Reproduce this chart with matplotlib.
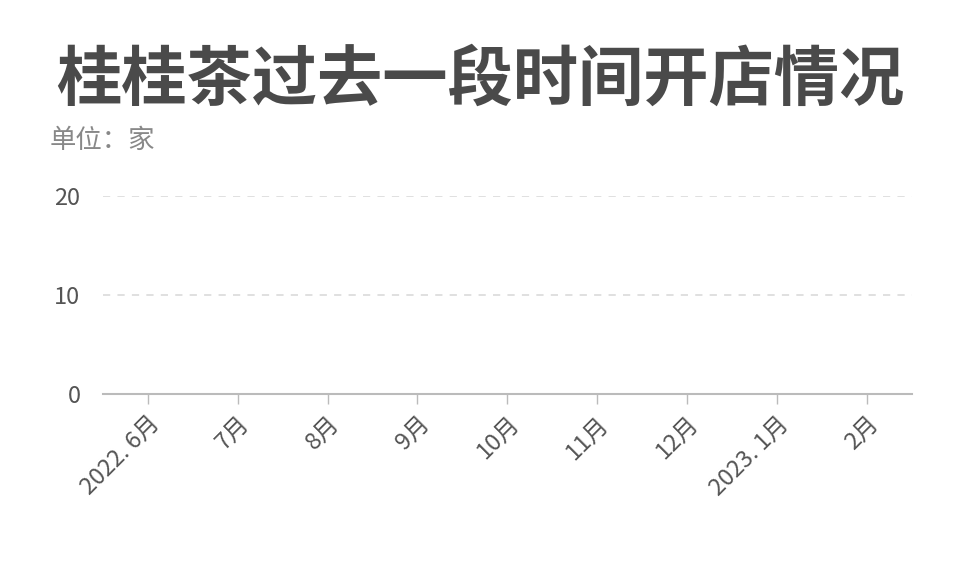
#
# Imports
#
from matplotlib import pyplot as plt
import numpy as np

plt.rcParams['font.family'] = ['Noto Sans CJK SC', 'DejaVu Sans']

#
# Data
#
months = ['2022. 6月', '7月', '8月', '9月', '10月', '11月', '12月', '2023. 1月', '2月']
stores = [0, 0, 0, 0, 0, 0, 0, 0, 0]
yticks = [0, 10, 20]

#
# main
#
if __name__ == "__main__":
    fig = plt.figure(figsize=(9.6, 5.74), dpi=100)
    ax = fig.add_axes([0.107, 0.3136, 0.843, 0.345])

    x = np.arange(len(months))
    ax.bar(x, stores, width=0.6, color='#e8743b')

    ax.set_xlim(-0.5, len(months) - 0.5)
    ax.set_ylim(0, 20)
    ax.set_yticks(yticks)
    ax.set_xticks(x)
    ax.set_xticklabels(months, rotation=45, ha='right', va='top',
                       rotation_mode='anchor')
    ax.tick_params(axis='y', length=0, pad=16, labelsize=17, labelcolor='#555555')
    ax.tick_params(axis='x', length=7, width=1, color='#bbbbbb', pad=6,
                   labelsize=17, labelcolor='#555555')
    ax.grid(axis='y', linestyle=(0, (4, 4)), color='#dddddd', linewidth=1.3)
    ax.set_axisbelow(True)
    for s in ['top', 'right', 'left']:
        ax.spines[s].set_visible(False)
    ax.spines['bottom'].set_color('#bbbbbb')
    ax.spines['bottom'].set_linewidth(1.5)

    fig.text(0.5, 0.86, '桂桂茶过去一段时间开店情况', ha='center', va='center',
             fontsize=47, fontweight='bold', color='#4a4a4a')
    fig.text(0.052, 0.755, '单位：家', ha='left', va='center',
             fontsize=19, color='#888888')

    fig.savefig('out.png', dpi=100)
